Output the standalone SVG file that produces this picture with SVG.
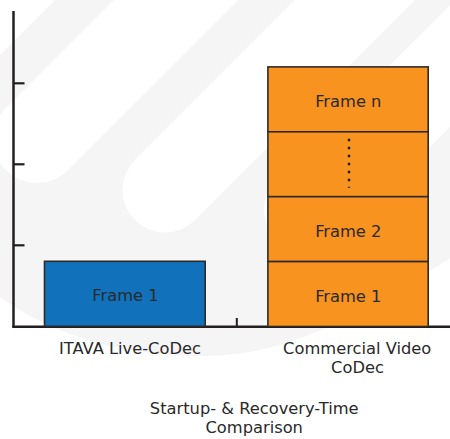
<svg xmlns="http://www.w3.org/2000/svg" width="450" height="439" viewBox="0 0 450 439">
  <style>
    .wm { fill: #f5f5f5; }
    .cut { stroke: #ffffff; fill: none; stroke-linecap: round; }
    .axis { stroke: #231f20; fill: none; }
    .bar { stroke: #2e2a28; stroke-width: 1.6; }
    .blue { fill: #1172bb; }
    .orange { fill: #f7931e; }
    .lbl { font-family: "DejaVu Sans", Verdana, sans-serif; font-size: 16.3px; fill: #2a2a2a; text-anchor: middle; }
  </style>
  <rect x="0" y="0" width="450" height="439" fill="#ffffff"/>
  <g id="watermark">
    <path class="wm" d="M55,0 L450,0 L450,258 C370,310 290,356 205,356 C130,356 60,340 0,297 L0,55 Z"/>
    <line class="cut" x1="37" y1="139" x2="337" y2="-161" stroke-width="88"/>
    <line class="cut" x1="165" y1="190" x2="465" y2="-110" stroke-width="85"/>
    <line class="cut" x1="307" y1="209" x2="607" y2="-91" stroke-width="86"/>
  </g>
  <g id="axes">
    <line class="axis" x1="13.5" y1="11" x2="13.5" y2="327.5" stroke-width="2.5"/>
    <line class="axis" x1="12.3" y1="326.7" x2="450" y2="326.7" stroke-width="2.6"/>
    <line class="axis" x1="13.5" y1="83.3" x2="24.5" y2="83.3" stroke-width="2.2"/>
    <line class="axis" x1="13.5" y1="164.3" x2="24.5" y2="164.3" stroke-width="2.2"/>
    <line class="axis" x1="13.5" y1="245.3" x2="24.5" y2="245.3" stroke-width="2.2"/>
    <line class="axis" x1="236.8" y1="318" x2="236.8" y2="326" stroke-width="2"/>
  </g>
  <g id="itava-bar">
    <rect class="bar blue" x="44.5" y="261.3" width="160.7" height="65"/>
    <text class="lbl" x="125.5" y="301.3">Frame 1</text>
  </g>
  <g id="commercial-frame-n">
    <rect class="bar orange" x="267.9" y="66.9" width="160.3" height="64.9"/>
    <text class="lbl" x="348.3" y="107.3">Frame n</text>
  </g>
  <g id="commercial-dots">
    <rect class="bar orange" x="267.9" y="131.8" width="160.3" height="64.9"/>
    <line x1="349" y1="138.8" x2="349" y2="187.8" stroke="#231f20" stroke-width="2.4" stroke-dasharray="2.5 5.5"/>
  </g>
  <g id="commercial-frame-2">
    <rect class="bar orange" x="267.9" y="196.7" width="160.3" height="64.9"/>
    <text class="lbl" x="348.3" y="237.2">Frame 2</text>
  </g>
  <g id="commercial-frame-1">
    <rect class="bar orange" x="267.9" y="261.6" width="160.3" height="64.9"/>
    <text class="lbl" x="348.3" y="301.5">Frame 1</text>
  </g>
  <g id="labels">
    <text class="lbl" x="130" y="353.5">ITAVA Live-CoDec</text>
    <text class="lbl" x="357.2" y="354">Commercial Video</text>
    <text class="lbl" x="357.5" y="372.8">CoDec</text>
    <text class="lbl" x="254.2" y="414.3">Startup- &amp; Recovery-Time</text>
    <text class="lbl" x="254.2" y="433.3">Comparison</text>
  </g>
</svg>
